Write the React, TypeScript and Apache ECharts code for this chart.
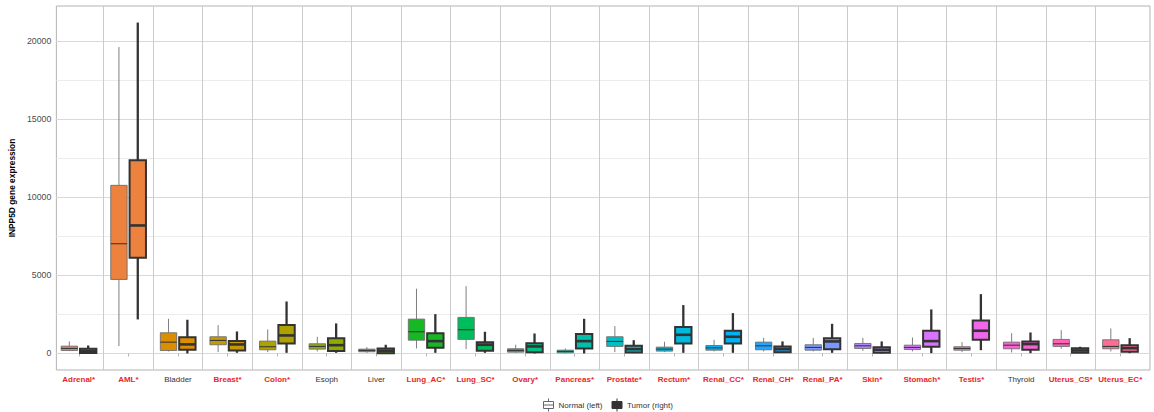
import React, { useEffect, useRef } from 'react';
import * as echarts from 'echarts';

// ---- data ----
const categories = [
  'Adrenal*', 'AML*', 'Bladder', 'Breast*', 'Colon*', 'Esoph', 'Liver', 'Lung_AC*', 'Lung_SC*',
  'Ovary*', 'Pancreas*', 'Prostate*', 'Rectum*', 'Renal_CC*', 'Renal_CH*', 'Renal_PA*', 'Skin*',
  'Stomach*', 'Testis*', 'Thyroid', 'Uterus_CS*', 'Uterus_EC*',
];

const tissueColors = [
  '#F8766D', '#ED813E', '#DB8E00', '#C69900', '#AEA200', '#8FAB00', '#60B200', '#17B826',
  '#00BD5C', '#00C085', '#00C0AA', '#00BFC4', '#00BADE', '#00B2F3', '#21A5FF', '#7A97FF',
  '#B086FF', '#D874FC', '#EF67EB', '#FC61D4', '#FF63B6', '#FD6C93',
];

// [min, Q1, median, Q3, max]
const normalBoxes = [
  [150, 192, 320, 468, 770],
  [470, 4740, 7030, 10770, 19630],
  [130, 192, 725, 1325, 2220],
  [85, 557, 833, 1070, 1815],
  [85, 235, 430, 790, 1540],
  [130, 277, 450, 620, 1070],
  [40, 110, 190, 277, 405],
  [320, 850, 1390, 2200, 4150],
  [277, 900, 1520, 2310, 4310],
  [40, 85, 190, 300, 557],
  [0, 40, 130, 210, 320],
  [85, 450, 770, 1070, 1750],
  [85, 150, 277, 405, 750],
  [130, 210, 360, 510, 875],
  [130, 235, 490, 725, 1000],
  [130, 210, 385, 557, 1000],
  [170, 320, 490, 640, 1000],
  [130, 256, 385, 530, 1025],
  [85, 210, 320, 430, 725],
  [64, 300, 530, 725, 1300],
  [300, 450, 620, 900, 1495],
  [130, 300, 450, 875, 1600],
];

const tumorBoxes = [
  [0, 30, 150, 300, 510],
  [2180, 6130, 8200, 12370, 21200],
  [0, 235, 580, 1045, 2160],
  [40, 192, 577, 790, 1410],
  [40, 640, 1155, 1815, 3330],
  [40, 150, 530, 980, 1925],
  [0, 20, 170, 320, 557],
  [40, 365, 790, 1300, 2520],
  [40, 170, 557, 725, 1390],
  [0, 85, 450, 660, 1280],
  [0, 320, 790, 1240, 2220],
  [20, 64, 277, 490, 850],
  [40, 640, 1195, 1690, 3100],
  [40, 640, 1070, 1455, 2585],
  [40, 85, 277, 450, 770],
  [40, 277, 770, 980, 1900],
  [0, 40, 235, 405, 770],
  [20, 430, 790, 1455, 2820],
  [210, 875, 1455, 2115, 3800],
  [20, 235, 600, 770, 1345],
  [20, 40, 190, 340, 430],
  [20, 107, 340, 530, 980],
];

const yTickLabels = [0, 5000, 10000, 15000, 20000];
const Y_MIN = -1060;
const Y_MAX = 22260;

const FONT = '"Liberation Sans", Arial, Helvetica, sans-serif';

type BoxStyle = {
  stroke: string;
  lw: number;
  whiskerStroke: string;
  whiskerLw: number;
  medianStroke: string;
  medianLw: number;
};

const normalStyle: BoxStyle = {
  stroke: '#6E6E6E', lw: 0.9, whiskerStroke: '#7E7E7E', whiskerLw: 1, medianStroke: '#3A3A3A', medianLw: 1.1,
};
const tumorStyle: BoxStyle = {
  stroke: '#333333', lw: 2, whiskerStroke: '#333333', whiskerLw: 2.3, medianStroke: '#333333', medianLw: 2.6,
};

function makeRender(side: number, st: BoxStyle) {
  return (params: any, api: any) => {
    const i = api.value(0);
    const lo = api.coord([i, api.value(1)]);
    const q1 = api.coord([i, api.value(2)]);
    const med = api.coord([i, api.value(3)]);
    const q3 = api.coord([i, api.value(4)]);
    const hi = api.coord([i, api.value(5)]);
    const band = api.size([1, 0])[0];
    const cx = lo[0] + side * 0.19 * band;
    const w = 0.33 * band;
    const fill = tissueColors[params.dataIndex];
    return {
      type: 'group',
      children: [
        { type: 'line', shape: { x1: cx, y1: hi[1], x2: cx, y2: q3[1] }, style: { stroke: st.whiskerStroke, lineWidth: st.whiskerLw } },
        { type: 'line', shape: { x1: cx, y1: q1[1], x2: cx, y2: lo[1] }, style: { stroke: st.whiskerStroke, lineWidth: st.whiskerLw } },
        { type: 'rect', shape: { x: cx - w / 2, y: q3[1], width: w, height: q1[1] - q3[1] }, style: { fill, stroke: st.stroke, lineWidth: st.lw } },
        { type: 'line', shape: { x1: cx - w / 2, y1: med[1], x2: cx + w / 2, y2: med[1] }, style: { stroke: st.medianStroke, lineWidth: st.medianLw } },
      ],
    };
  };
}

const legendIcon = 'path://M5,0L5,3M0,3L10,3L10,10L0,10ZM0,6.5L10,6.5M5,10L5,13';

export default function App() {
  const ref = useRef<HTMLDivElement>(null);

  useEffect(() => {
    if (!ref.current) return;
    const chart = echarts.init(ref.current, undefined, { renderer: 'svg' });

    const panelLeft = 49;
    const panelWidth = 1101;
    const unit = panelWidth / (categories.length + 0.2);

    const option: any = {
      animation: false,
      backgroundColor: '#ffffff',
      grid: [
        { left: panelLeft, top: 6, width: panelWidth, height: 364, show: true, borderColor: '#B3B3B3', borderWidth: 1, backgroundColor: 'transparent' },
        { left: panelLeft + 0.1 * unit, top: 6, width: categories.length * unit, height: 364 },
      ],
      xAxis: [
        { gridIndex: 0, type: 'value', min: 0, max: 1, show: false },
        {
          gridIndex: 1,
          type: 'category',
          data: categories,
          boundaryGap: true,
          axisLine: { show: false },
          axisTick: { show: true, alignWithLabel: true, interval: 0, length: 3, lineStyle: { color: '#B3B3B3', width: 1 } },
          splitLine: { show: true, interval: 0, showMinLine: false, showMaxLine: false, lineStyle: { color: '#CCCCCC', width: 1 } },
          axisLabel: {
            interval: 0,
            margin: 5,
            formatter: (v: string) => (v.endsWith('*') ? `{sig|${v}}` : `{ns|${v}}`),
            rich: {
              sig: { color: '#E8272A', fontWeight: 'bold', fontSize: 8, fontFamily: FONT },
              ns: { color: '#333333', fontSize: 8, fontFamily: FONT },
            },
          },
        },
      ],
      yAxis: [
        {
          gridIndex: 0, type: 'value', position: 'right', min: Y_MIN, max: Y_MAX, minInterval: 2500, maxInterval: 2500,
          axisLabel: { show: false }, axisLine: { show: false }, axisTick: { show: false },
          splitLine: { show: true, showMinLine: false, showMaxLine: false, lineStyle: { color: '#ECECEC', width: 1 } },
        },
        {
          gridIndex: 0, type: 'value', position: 'left', min: Y_MIN, max: Y_MAX, minInterval: 5000, maxInterval: 5000,
          name: 'INPP5D gene expression', nameLocation: 'middle', nameGap: 31, nameRotate: 90,
          nameTextStyle: { fontWeight: 'bold', fontSize: 8.4, color: '#000000', fontFamily: FONT },
          axisLine: { show: false },
          axisTick: { show: false },
          axisLabel: {
            margin: 5, fontSize: 8.8, color: '#4D4D4D', fontFamily: FONT, showMinLabel: false, showMaxLabel: false,
            formatter: (v: number) => (yTickLabels.includes(v) ? String(v) : ''),
          },
          splitLine: { show: true, showMinLine: false, showMaxLine: false, lineStyle: { color: '#D9D9D9', width: 1 } },
        },
        { gridIndex: 1, type: 'value', min: Y_MIN, max: Y_MAX, show: false },
      ],
      legend: {
        left: 538,
        top: 393,
        itemWidth: 10,
        itemHeight: 13,
        itemGap: 9,
        selectedMode: false,
        textStyle: { fontSize: 8, color: '#333333', fontFamily: FONT },
        data: [
          { name: 'Normal (left)', icon: legendIcon, itemStyle: { color: '#ffffff', borderColor: '#666666', borderWidth: 1 } },
          { name: 'Tumor (right)', icon: legendIcon, itemStyle: { color: '#333333', borderColor: '#333333', borderWidth: 1 } },
        ],
      },
      series: [
        {
          name: 'Normal (left)',
          type: 'custom',
          xAxisIndex: 1,
          yAxisIndex: 2,
          renderItem: makeRender(-1, normalStyle),
          encode: { x: 0, y: [1, 2, 3, 4, 5] },
          data: normalBoxes.map((b, i) => [i, ...b]),
          silent: true,
        },
        {
          name: 'Tumor (right)',
          type: 'custom',
          xAxisIndex: 1,
          yAxisIndex: 2,
          renderItem: makeRender(1, tumorStyle),
          encode: { x: 0, y: [1, 2, 3, 4, 5] },
          data: tumorBoxes.map((b, i) => [i, ...b]),
          silent: true,
        },
      ],
    };

    chart.setOption(option);
    return () => chart.dispose();
  }, []);

  return <div ref={ref} style={{ position: 'fixed', left: 0, top: 0, width: 1154, height: 412, background: '#fff' }} />;
}
